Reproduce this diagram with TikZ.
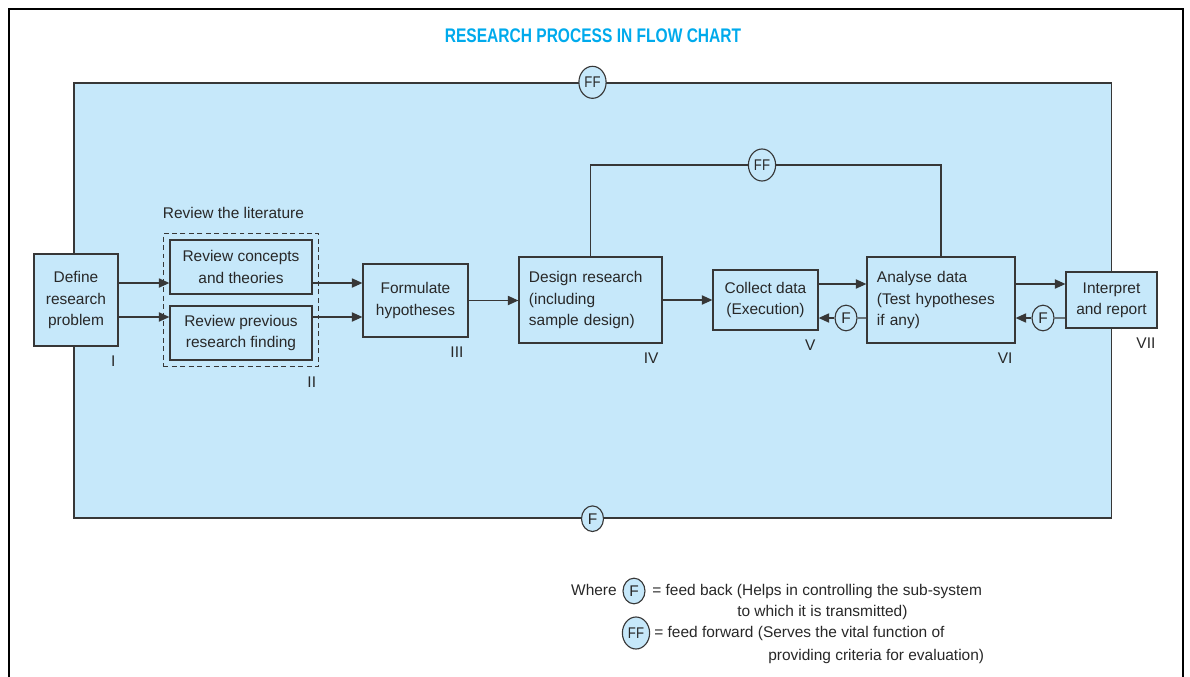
\documentclass[tikz,border=0pt]{standalone}
\usepackage{fontspec}
\setmainfont{Liberation Sans}
\usetikzlibrary{arrows.meta,shapes.geometric,fit}
\definecolor{panelblue}{RGB}{198,232,250}
\definecolor{titlecyan}{RGB}{0,170,236}
\definecolor{linegray}{RGB}{55,55,55}
\definecolor{textgray}{RGB}{40,40,40}
\newcommand{\bodyfont}{\fontsize{11}{15}\selectfont}
\newcommand{\ffmark}{\scalebox{0.85}[1]{FF}}
\tikzset{
	box/.style={draw=linegray, line width=0.9pt, fill=panelblue, inner sep=0pt, align=center, text=textgray, font=\bodyfont},
	leftbox/.style={box, align=left, inner xsep=0.25cm},
	fb/.style={ellipse, draw=linegray, line width=0.8pt, fill=panelblue, inner sep=0pt, minimum width=0.55cm, minimum height=0.64cm, text=textgray, font=\bodyfont},
	ff/.style={fb, minimum width=0.68cm, minimum height=0.8cm},
	link/.style={line width=0.8pt, draw=linegray},
	arr/.style={link, -{Triangle[length=2.6mm,width=2.3mm]}},
	num/.style={anchor=east, inner sep=0pt, text=textgray, font=\bodyfont},
	txt/.style={anchor=base west, inner sep=0pt, text=textgray, font=\bodyfont}
}
\begin{document}
\begin{tikzpicture}[x=0.025cm, y=-0.025cm]
	\useasboundingbox (0,0) rectangle (1190,677);
	% frame and title
	\draw[line width=1.2pt] (9,677) -- (9,9) -- (1183,9) -- (1183,677);
	\node[font=\bfseries\fontsize{14}{16}\selectfont, text=titlecyan] (title) at (593,36) {\scalebox{0.79}[1]{RESEARCH PROCESS IN FLOW CHART}};
	\node[draw=linegray, line width=0.9pt, fill=panelblue, minimum width=25.925cm, minimum height=10.875cm, inner sep=0pt] (panel) at (592.5,300.5) {};
	\node[ff] (fftop) at (panel.north) {\ffmark};
	\node[fb] (fbbot) at (panel.south) {F};
	% steps
	\node[box, minimum width=2.1cm, minimum height=2.3cm] (define) at (76,300) {Define\\research\\problem};
	\node[box, minimum width=3.55cm, minimum height=1.35cm] (revcon) at (241,267) {Review concepts\\and theories};
	\node[box, minimum width=3.55cm, minimum height=1.35cm] (revprev) at (241,333) {Review previous\\research finding};
	\node[draw=linegray, line width=1pt, dash pattern=on 3.5pt off 2.5pt, fit=(revcon)(revprev), inner sep=0.15cm] (litbox) {};
	\node[txt, anchor=south west] (littitle) at ([yshift=0.35cm]litbox.north west) {Review the literature};
	\node[box, minimum width=2.625cm, minimum height=1.825cm] (formulate) at (415.5,300.5) {Formulate\\hypotheses};
	\node[leftbox, text width=3.075cm, minimum height=2.15cm] (design) at (590.5,300) {Design research\\(including\\sample design)};
	\node[box, minimum width=2.625cm, minimum height=1.5cm] (collect) at (765.5,300) {Collect data\\(Execution)};
	\node[leftbox, text width=3.2cm, minimum height=2.15cm] (analyse) at (941,300) {Analyse data\\(Test hypotheses\\if any)};
	\node[box, minimum width=2.275cm, minimum height=1.4cm] (interpret) at (1111.5,300) {Interpret\\and report};
	\node[fb] (fbcol) at (846,318) {F};
	\node[fb] (fbana) at (1043,318) {F};
	\node[ff] (ffmid) at (762,165) {\ffmark};
	% numbers
	\node[num] (n1) at ([shift={(-3,15)}]define.south east) {I};
	\node[num] (n2) at ([shift={(-3,15)}]litbox.south east) {II};
	\node[num] (n3) at ([shift={(-5,15)}]formulate.south east) {III};
	\node[num] (n4) at ([shift={(-4,15)}]design.south east) {IV};
	\node[num] (n5) at ([shift={(-3,15)}]collect.south east) {V};
	\node[num] (n6) at ([shift={(-3,15)}]analyse.south east) {VI};
	\node[num] (n7) at ([shift={(-2,15)}]interpret.south east) {VII};
	% connectors
	\draw[arr] ([yshift=-0.4cm]revcon.west -| define.east) -- ([yshift=-0.4cm]revcon.west);
	\draw[arr] ([yshift=0.4cm]revprev.west -| define.east) -- ([yshift=0.4cm]revprev.west);
	\draw[arr] ([yshift=-0.4cm]revcon.east) -- ([yshift=-0.4cm]revcon.east -| formulate.west);
	\draw[arr] ([yshift=0.4cm]revprev.east) -- ([yshift=0.4cm]revprev.east -| formulate.west);
	\draw[arr] (formulate.east) -- (formulate.east -| design.west);
	\draw[arr] (design.east) -- (collect.west);
	\draw[arr] ([yshift=0.4cm]collect.east) -- ([yshift=0.4cm]collect.east -| analyse.west);
	\draw[link] ([yshift=-0.45cm]analyse.west) -- (fbcol);
	\draw[arr] (fbcol) -- (fbcol -| collect.east);
	\draw[arr] ([yshift=0.4cm]analyse.east) -- ([yshift=0.4cm]analyse.east -| interpret.west);
	\draw[link] ([yshift=-0.45cm]interpret.west) -- (fbana);
	\draw[arr] (fbana) -- (fbana -| analyse.east);
	\draw[link] (design.north) |- (ffmid);
	\draw[link] (ffmid) -| (analyse.north);
	% legend
	\node[txt, anchor=base east] (where) at (617,595.5) {Where};
	\node[fb] (legf) at (634,591) {F};
	\node[txt] (legf1) at (652,595.5) {= feed back (Helps in controlling the sub-system};
	\node[txt] (legf2) at (737,616.5) {to which it is transmitted)};
	\node[ff] (legff) at (636,633) {\ffmark};
	\node[txt] (legff1) at (654,637.5) {= feed forward (Serves the vital function of};
	\node[txt] (legff2) at (768,660.5) {providing criteria for evaluation)};
\end{tikzpicture}
\end{document}
